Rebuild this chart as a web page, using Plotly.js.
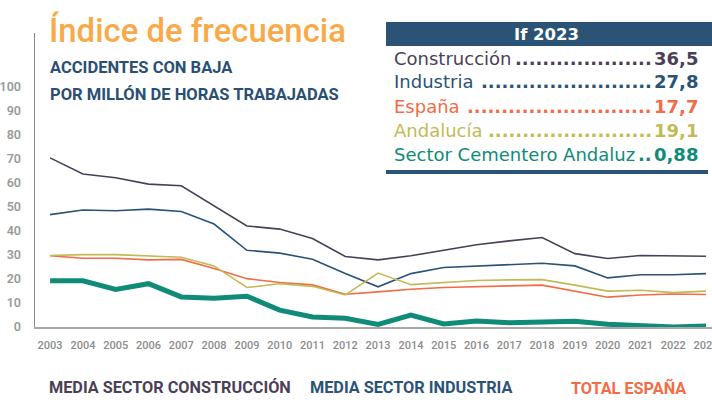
<!DOCTYPE html>
<html>
<head>
<meta charset="utf-8">
<script src="https://cdn.plot.ly/plotly-3.0.1.min.js"></script>
<style>html,body{margin:0;padding:0;background:#fff;}#chart{width:712px;height:409px;}</style>
</head>
<body>
<div id="chart"></div>
<script>
// ---- data ----
const years = [2003,2004,2005,2006,2007,2008,2009,2010,2011,2012,2013,2014,2015,2016,2017,2018,2019,2020,2021,2022,2023];
const construccion = [70.3,63.6,62.0,59.4,58.7,50.5,42.0,40.7,36.8,29.3,27.9,29.6,31.9,34.2,35.8,37.2,30.5,28.5,29.7,29.7,29.4];
const industria    = [46.7,48.6,48.3,49.0,48.0,42.8,31.9,30.7,28.2,22.2,16.7,22.2,24.7,25.3,25.8,26.5,25.4,20.4,21.7,21.7,22.2];
const espana       = [29.6,28.6,28.6,27.9,28.1,24.3,20.1,18.5,17.5,13.6,14.6,15.7,16.4,16.9,17.1,17.4,15.0,12.4,13.3,13.7,13.5];
const andalucia    = [29.7,30.1,30.1,29.6,29.0,25.4,16.4,18.0,16.9,13.3,22.4,17.6,18.5,19.3,19.6,19.7,17.4,14.9,15.3,14.3,14.9];
const cementero    = [19.2,19.2,15.6,18.0,12.5,12.0,12.8,7.0,4.2,3.6,1.1,4.9,1.25,2.5,1.8,2.0,2.4,1.1,0.6,0.0,0.4];
const yTicks = [0,10,20,30,40,50,60,70,80,90,100];

const titleText = "Índice de frecuencia";
const subtitle1 = "ACCIDENTES CON BAJA";
const subtitle2 = "POR MILLÓN DE HORAS TRABAJADAS";
const tableTitle = "If 2023";
const tableLabels = ["Construcción","Industria","España","Andalucía","Sector Cementero Andaluz"];
const tableValues = ["36,5","27,8","17,7","19,1","0,88"];
const bottomLabels = ["MEDIA SECTOR CONSTRUCCIÓN","MEDIA SECTOR INDUSTRIA","TOTAL ESPAÑA"];

// ---- styles ----
const C_CON = "#4b3f57", C_IND = "#2a5376", C_ESP = "#f26c45", C_AND = "#c1ba57", C_CEM = "#0f8b78";
const rowColors = [C_CON, C_IND, C_ESP, C_AND, C_CEM];
const W = 712, H = 409, ML = 35, MR = 0, MT = 33, MB = 82;
const PW = W - ML - MR, PH = H - MT - MB;
const px = x => (x - ML) / PW;
const py = y => (H - MB - y) / PH;

// text measuring helpers (layout only)
const ctx = document.createElement('canvas').getContext('2d');
function measure(text, family, weight, size) {
  ctx.font = weight + ' ' + size + 'px ' + family;
  return ctx.measureText(text).width;
}
function fitSize(text, family, weight, targetW) {
  return 100 * targetW / measure(text, family, weight, 100);
}
const CONDENSED_CANDIDATES = ["'Liberation Sans Narrow', sans-serif", "'DejaVu Sans Condensed', sans-serif", "Roboto, sans-serif", "Lato, sans-serif", "Inter, sans-serif"];
function bestCondensed(text, weight, targetW) {
  let best = null;
  CONDENSED_CANDIDATES.forEach(f => {
    const s = fitSize(text, f, weight, targetW);
    if (!best || s > best.size) best = {family: f, size: s};
  });
  return best;
}

function line(y, color, width) {
  return {x: years, y: y, type: 'scatter', mode: 'lines', line: {color: color, width: width}, hoverinfo: 'skip'};
}
const traces = [
  line(construccion, C_CON, 1.6),
  line(industria, C_IND, 1.6),
  line(espana, C_ESP, 1.6),
  line(andalucia, C_AND, 1.6),
  line(cementero, C_CEM, 5)
];

const annotations = [];
const shapes = [];
function ann(text, x, y, xanchor, font, extra) {
  annotations.push(Object.assign({xref:'paper', yref:'paper', x: px(x), y: py(y), xanchor: xanchor, yanchor:'middle',
    showarrow:false, text: text, font: font}, extra || {}));
}

// title
const TITLE_FAM = "Roboto, sans-serif";
const titleSize = Math.min(36, fitSize(titleText, TITLE_FAM, 500, 297));
ann(titleText, 47, 30, 'left', {family: TITLE_FAM, size: titleSize, weight: 500, color: "#f8aa48"});

// subtitles
const sub = bestCondensed(subtitle2, 700, 256);
const subSize = sub.size * 1.13;
ann(subtitle1, 48, 67, 'left', {family: sub.family, size: subSize, weight: 700, color: "#2a4f72"});
ann(subtitle2, 48, 94, 'left', {family: sub.family, size: subSize, weight: 700, color: "#2a4f72"});

// table
shapes.push({type:'rect', xref:'paper', yref:'paper', x0: px(386), x1: px(712), y0: py(46), y1: py(22), fillcolor: C_IND, line:{width:0}, layer:'above'});
shapes.push({type:'rect', xref:'paper', yref:'paper', x0: px(386), x1: px(708), y0: py(174), y1: py(170), fillcolor: C_IND, line:{width:0}, layer:'above'});
const ROWFAM = "'DejaVu Sans', sans-serif";
ann('<b>' + tableTitle + '</b>', 546, 34, 'center', {family: ROWFAM, size: 16.5, color: "#ffffff"});

const rowSize = Math.min(18, fitSize(tableLabels[4], ROWFAM, 400, 244));
const rowY = [58, 82, 106, 130, 154];
const LABEL_X = 392, VALUE_R = 700;
tableLabels.forEach((lab, i) => {
  const c = rowColors[i];
  const labW = measure(lab, ROWFAM, 400, rowSize);
  const valW = measure(tableValues[i], ROWFAM, 700, rowSize);
  const dotW = measure('.', ROWFAM, 700, rowSize);
  const dotStart = LABEL_X + labW + 5;
  const dotEnd = VALUE_R - valW - 2;
  const n = Math.max(0, Math.floor((dotEnd - dotStart) / dotW));
  ann(lab, LABEL_X, rowY[i], 'left', {family: ROWFAM, size: rowSize, color: c});
  ann('.'.repeat(n), dotEnd, rowY[i], 'right', {family: ROWFAM, size: rowSize, weight: 700, color: c});
  ann('<b>' + tableValues[i] + '</b>', VALUE_R, rowY[i], 'right', {family: ROWFAM, size: rowSize, color: c});
});

// bottom labels
const bot = bestCondensed(bottomLabels[0], 700, 216);
const botSize = bot.size * 1.12;
const bottomX = [170, 411, 628];
const bottomC = [C_CON, C_IND, C_ESP];
bottomLabels.forEach((t, i) => {
  ann(t, bottomX[i], 388, 'center', {family: bot.family, size: botSize, weight: 700, color: bottomC[i]});
});

const layout = {
  width: W, height: H,
  margin: {l: ML, r: MR, t: MT, b: MB, pad: 0},
  paper_bgcolor: '#ffffff', plot_bgcolor: '#ffffff',
  showlegend: false,
  xaxis: {range: [2002.54, 2023.18], tickvals: years, ticktext: years.map(String), showgrid: false, zeroline: false,
    showline: true, linecolor: '#a8a8a8', linewidth: 1.5, ticks: '', ticklabelstandoff: 7, ticklabeloverflow: 'allow',
    tickfont: {family: sub.family, size: 11, weight: 500, color: '#8c8c8c'}, fixedrange: true},
  yaxis: {range: [0, 122.2], tickvals: yTicks, showgrid: false, zeroline: false,
    showline: true, linecolor: '#8a8a8a', linewidth: 1.5, ticks: '', ticklabelstandoff: 10,
    tickfont: {family: sub.family, size: 12.5, weight: 600, color: '#9a9a9a'}, fixedrange: true},
  annotations: annotations,
  shapes: shapes
};
Plotly.newPlot('chart', traces, layout, {displayModeBar: false, staticPlot: true});
</script>
</body>
</html>
